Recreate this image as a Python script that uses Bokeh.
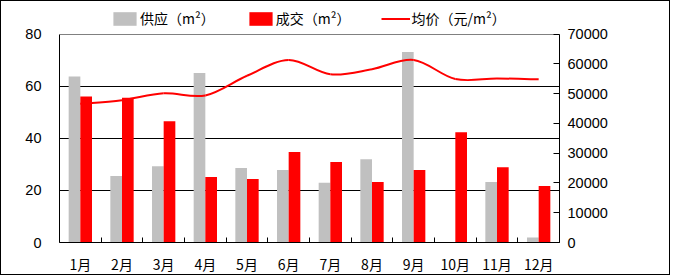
from bokeh.plotting import figure
from bokeh.models import Range1d, LinearAxis, FixedTicker, Legend, LegendItem, Grid
from bokeh.embed import file_html
from bokeh.resources import INLINE

months = ["1月", "2月", "3月", "4月", "5月", "6月", "7月", "8月", "9月", "10月", "11月", "12月"]
supply = [63.7, 25.5, 29.3, 65.1, 28.6, 27.8, 22.9, 32.0, 73.1, 0.0, 23.2, 1.9]
deal = [56.0, 55.6, 46.5, 25.1, 24.4, 34.7, 30.9, 23.2, 27.8, 42.3, 28.9, 21.7]
price = [46600, 47800, 50100, 49400, 56000, 61300, 56500, 58200, 61300, 54900, 55100, 54800]
left_ticks = [0, 20, 40, 60, 80]
right_ticks = [0, 10000, 20000, 30000, 40000, 50000, 60000, 70000]
series_names = ["供应（m²）", "成交（m²）", "均价（元/m²）"]

n = len(months)
xc = [i + 0.5 for i in range(n)]

H = 275
BOTTOM = 31
TOP_PAD = 33            # room above the 80 line for the legend
frame_h = H - BOTTOM
ratio = frame_h / (frame_h - TOP_PAD)
lmax, rmax = 80, 70000

p = figure(width=670, height=H, output_backend="svg", toolbar_location=None,
           x_range=Range1d(0, n), y_range=Range1d(0, lmax * ratio),
           min_border_left=58, min_border_right=112, min_border_top=0, min_border_bottom=BOTTOM)
p.styles = {"border": "1px solid black"}
p.extra_y_ranges = {"price": Range1d(0, rmax * ratio)}

p.outline_line_color = None
p.xgrid.visible = False
p.ygrid.ticker = FixedTicker(ticks=[20, 40, 60])
p.ygrid.grid_line_color = "black"
p.add_layout(Grid(dimension=1, ticker=FixedTicker(ticks=[lmax]), grid_line_color="#808080"))

font = "Liberation Sans"

# left axis
ya = p.yaxis[0]
ya.ticker = FixedTicker(ticks=left_ticks)
ya.bounds = (0, lmax)
ya.major_tick_line_color = None
ya.minor_tick_line_color = None
ya.axis_line_color = "black"
ya.major_label_text_font = font
ya.major_label_text_font_size = "14.5px"
ya.major_label_text_color = "black"
ya.major_label_standoff = 12

# bottom axis
xa = p.xaxis[0]
xa.ticker = FixedTicker(ticks=xc, minor_ticks=list(range(n + 1)))
xa.major_label_overrides = {x: m for x, m in zip(xc, months)}
xa.major_tick_line_color = None
xa.minor_tick_in = 5
xa.minor_tick_out = 0
xa.minor_tick_line_color = "black"
xa.axis_line_color = "black"
xa.major_label_text_font = "Noto Sans CJK SC"
xa.major_label_text_font_size = "14px"
xa.major_label_text_color = "black"
xa.major_label_standoff = 5

# right axis
ra = LinearAxis(y_range_name="price", ticker=FixedTicker(ticks=right_ticks), bounds=(0, rmax))
ra.major_tick_in = 6
ra.major_tick_out = 0
ra.minor_tick_line_color = None
ra.axis_line_color = "black"
ra.major_label_text_font = font
ra.major_label_text_font_size = "14.5px"
ra.major_label_text_color = "black"
ra.major_label_standoff = 8
p.add_layout(ra, "right")

off = 0.14
bw = 0.28
r1 = p.vbar(x=[x - off for x in xc], top=supply, width=bw, fill_color="#C0C0C0", line_color=None)
r2 = p.vbar(x=[x + off for x in xc], top=deal, width=bw, fill_color="#FF0000", line_color=None)

# smoothed price line (Catmull-Rom style Bezier through the data points)
x0, y0, x1, y1, cx0, cy0, cx1, cy1 = [], [], [], [], [], [], [], []
for i in range(n - 1):
    xm = xc[i - 1] if i > 0 else xc[i]
    ym = price[i - 1] if i > 0 else price[i]
    xp = xc[i + 2] if i + 2 < n else xc[i + 1]
    yp = price[i + 2] if i + 2 < n else price[i + 1]
    x0.append(xc[i]); y0.append(price[i])
    x1.append(xc[i + 1]); y1.append(price[i + 1])
    cx0.append(xc[i] + (xc[i + 1] - xm) / 6); cy0.append(price[i] + (price[i + 1] - ym) / 6)
    cx1.append(xc[i + 1] - (xp - xc[i]) / 6); cy1.append(price[i + 1] - (yp - price[i]) / 6)
r3 = p.bezier(x0=x0, y0=y0, x1=x1, y1=y1, cx0=cx0, cy0=cy0, cx1=cx1, cy1=cy1,
              line_color="#FF0000", line_width=2, y_range_name="price")

legend = Legend(items=[LegendItem(label=series_names[0], renderers=[r1], index=0),
                       LegendItem(label=series_names[1], renderers=[r2], index=0),
                       LegendItem(label=series_names[2], renderers=[r3], index=0)],
                orientation="horizontal", location=(51, 214),
                glyph_width=29, glyph_height=17, label_standoff=1, spacing=31,
                padding=0, margin=0, border_line_color=None, background_fill_alpha=0,
                label_text_font="Noto Sans CJK SC", label_text_font_size="14px",
                label_text_color="black")
p.add_layout(legend, "center")

open("out.html", "w").write(file_html(p, INLINE))
